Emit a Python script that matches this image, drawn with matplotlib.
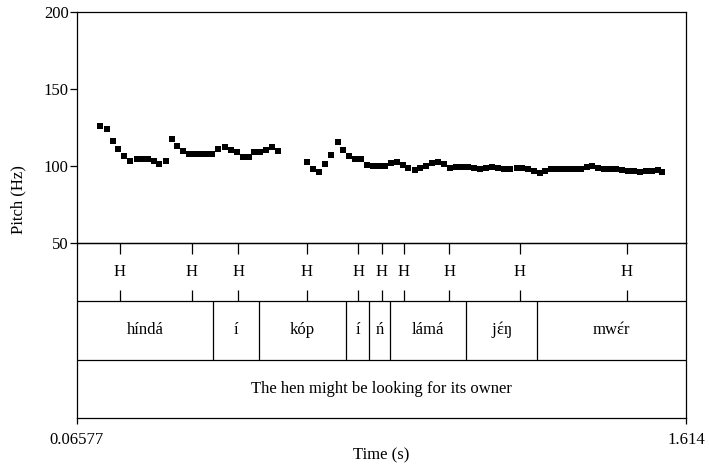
import matplotlib.pyplot as plt


# pitch track (s, Hz)
pitch_time = [
    0.1242, 0.1413, 0.1565, 0.1708, 0.1853, 0.2013, 0.2176, 0.2303, 0.2455,
    0.2615, 0.2750, 0.2913,
    0.3065, 0.3208, 0.3360, 0.3505, 0.3650, 0.3792, 0.3937, 0.4090, 0.4250,
    0.4412, 0.4565, 0.4718, 0.4870, 0.5023, 0.5165, 0.5310, 0.5463, 0.5615,
    0.5775,
    0.6513, 0.6665, 0.6818, 0.6970, 0.7123, 0.7286, 0.7428, 0.7580, 0.7733,
    0.7885, 0.8038, 0.8183, 0.8335, 0.8488, 0.8641, 0.8793, 0.8946, 0.9085,
    0.9238, 0.9390, 0.9530, 0.9683, 0.9835, 0.9988, 1.0140, 1.0293, 1.0445,
    1.0598, 1.0751, 1.0903, 1.1056, 1.1208, 1.1361, 1.1513, 1.1666, 1.1831,
    1.1979, 1.2131, 1.2284, 1.2416, 1.2556, 1.2708, 1.2861, 1.3013, 1.3166,
    1.3318, 1.3471, 1.3611, 1.3758, 1.3911, 1.4063, 1.4216, 1.4368, 1.4521,
    1.4673, 1.4826, 1.4978, 1.5131, 1.5283, 1.5436, 1.5530,
]
pitch_hz = [
    126.0, 123.8, 116.4, 111.2, 106.5, 103.2, 104.5, 104.7, 104.7,
    103.4, 101.1, 103.4,
    117.5, 113.2, 109.5, 108.0, 107.6, 107.6, 107.6, 108.0, 111.2,
    112.3, 110.6, 108.9, 105.6, 105.6, 108.9, 108.9, 110.6, 112.5,
    109.7,
    102.4, 98.2, 96.1, 101.5, 107.3, 115.4, 110.4, 106.7, 104.7,
    104.4, 100.8, 100.1, 100.0, 100.0, 101.8, 102.6, 100.6, 98.7,
    97.1, 99.0, 99.8, 102.1, 102.6, 101.1, 99.0, 99.2, 99.5,
    99.4, 98.7, 98.2, 98.5, 99.4, 98.9, 98.1, 98.1, 98.4,
    98.5, 98.1, 96.9, 95.3, 96.9, 97.9, 97.9, 97.9, 97.9,
    98.1, 98.2, 99.5, 100.0, 98.5, 97.9, 97.9, 97.9, 97.4,
    96.9, 96.9, 96.3, 96.9, 96.9, 97.4, 96.3,
]

t_start = 0.06577
t_end = 1.614

# tone tier: point tier
tone_times = [0.1751, 0.3574, 0.4759, 0.6505, 0.7809, 0.8404, 0.8971,
              1.0123, 1.1920, 1.4633]
tone_labels = ['H'] * len(tone_times)

# word tier: interval tier (ɛ́ done with a mathtext accent so it sits right)
word_bounds = [t_start, 0.4123, 0.5277, 0.7497, 0.8081, 0.8615, 1.0547,
               1.2345, t_end]
word_labels = ['híndá', 'í', 'kóp', 'í', 'ń', 'lámá',
               r'j$\acute{\mathrm{ɛ}}$ŋ', r'mw$\acute{\mathrm{ɛ}}$r']

sentence = 'The hen might be looking for its owner'

pitch_ticks = [50, 100, 150, 200]

fonts = ['Liberation Serif', 'DejaVu Serif']
plt.rcParams['font.family'] = fonts
plt.rcParams['font.size'] = 12
plt.rcParams['mathtext.fontset'] = 'custom'
plt.rcParams['mathtext.rm'] = 'Liberation Serif'
plt.rcParams['mathtext.it'] = 'Liberation Serif'

fig = plt.figure(figsize=(7.09, 4.68), dpi=100)
left = 77 / 709
width = (686 - 77) / 709
ax = fig.add_axes([left, 1 - 243 / 468, width, 231 / 468])
tx = fig.add_axes([left, 1 - 418 / 468, width, 175 / 468])
tx.patch.set_visible(False)

# pitch panel
ax.plot(pitch_time, pitch_hz, 's', color='black', ms=3.8, mew=0)
ax.set_xlim(t_start, t_end)
ax.set_ylim(50, 200)
ax.set_yticks(pitch_ticks)
ax.set_xticks([])
ax.tick_params(axis='y', direction='out', length=5, width=0.9, pad=1)
for s in ax.spines.values():
    s.set_linewidth(0.9)

# tiers
tx.set_xlim(t_start, t_end)
tx.set_ylim(0, 3)
tx.set_yticks([])
for s in tx.spines.values():
    s.set_linewidth(0.9)
tx.axhline(1, color='black', lw=0.9)
tx.axhline(2, color='black', lw=0.9)

tx.vlines(tone_times, 2.81, 3, color='black', lw=0.9)
tx.vlines(tone_times, 2, 2.19, color='black', lw=0.9)
for t, lab in zip(tone_times, tone_labels):
    tx.text(t, 2.5, lab, ha='center', va='center')

tx.vlines(word_bounds[1:-1], 1, 2, color='black', lw=0.9)
for a, b, lab in zip(word_bounds[:-1], word_bounds[1:], word_labels):
    tx.text((a + b) / 2, 1.5, lab, ha='center', va='center')

tx.text((t_start + t_end) / 2, 0.5, sentence, ha='center', va='center')

tx.set_xticks([t_start, t_end])
tx.set_xticklabels(['0.06577', '1.614'])
tx.tick_params(axis='x', direction='out', length=4, width=0.9, pad=6)

fig.text(18 / 709, 1 - 200 / 468, 'Pitch (Hz)', rotation=90,
         ha='center', va='center')
fig.text((77 + 686) / 2 / 709, 1 - 455 / 468, 'Time (s)',
         ha='center', va='center')

fig.savefig('out.png', dpi=100)
